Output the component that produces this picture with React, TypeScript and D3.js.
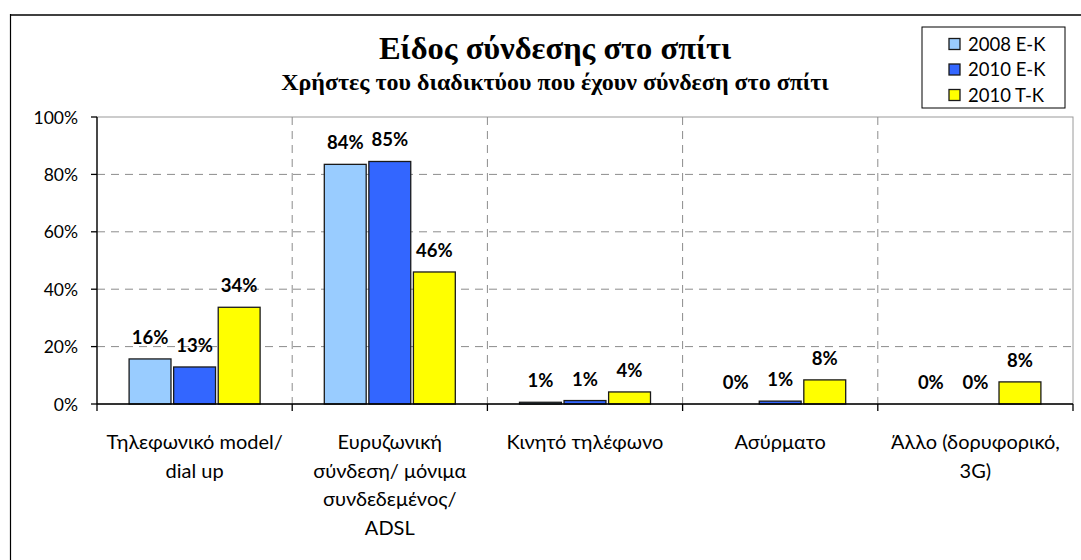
import React from "react";
import * as d3 from "d3";

const categories = [
  ["Τηλεφωνικό model/", "dial up"],
  ["Ευρυζωνική", "σύνδεση/ μόνιμα", "συνδεδεμένος/", "ADSL"],
  ["Κινητό τηλέφωνο"],
  ["Ασύρματο"],
  ["Άλλο (δορυφορικό,", "3G)"],
];
const seriesNames = ["2008 E-K", "2010 E-K", "2010 T-K"];
const values2008EK = [15.7, 83.5, 0.6, 0, 0];
const values2010EK = [12.9, 84.5, 1.2, 1.0, 0];
const values2010TK = [33.7, 46.0, 4.2, 8.4, 7.7];
const seriesColors = ["#99CCFF", "#3366FF", "#FFFF00"];
const yTicks = [0, 20, 40, 60, 80, 100];
const title = "Είδος σύνδεσης στο σπίτι";
const subtitle = "Χρήστες του διαδικτύου που έχουν σύνδεση στο σπίτι";

const W = 1081;
const H = 560;
const plot = { left: 97, right: 1073, top: 117, bottom: 404 };
const sans = "Lato, 'Open Sans', sans-serif";
const serif = "'Liberation Serif', 'DejaVu Serif', serif";

export default function App() {
  const series = [values2008EK, values2010EK, values2010TK];
  const x = d3
    .scaleBand<number>()
    .domain(categories.map((_, i) => i))
    .range([plot.left, plot.right])
    .paddingInner(0)
    .paddingOuter(0);
  const groupW = 131;
  const inner = d3
    .scaleBand<number>()
    .domain([0, 1, 2])
    .range([0, groupW])
    .paddingInner(0.06);
  const y = d3.scaleLinear().domain([0, 100]).range([plot.bottom, plot.top]);
  const bw = x.bandwidth();
  const boundaries = categories.map((_, i) => x(i)!).concat([plot.right]);

  return (
    <div style={{ position: "fixed", left: 0, top: 0 }}>
      <svg width={W} height={H} style={{ display: "block", background: "#fff" }}>
        <rect x={0} y={0} width={W} height={H} fill="#fff" />
        {/* outer frame */}
        <line x1={10.5} x2={W + 5} y1={15} y2={15} stroke="#404040" strokeWidth={2} />
        <line x1={10.5} x2={10.5} y1={14} y2={H + 5} stroke="#000" strokeWidth={1.2} />

        {/* title */}
        <text x={555} y={59} textAnchor="middle" fontFamily={serif} fontWeight="bold" fontSize={32.5} fill="#000">
          {title}
        </text>
        <text x={555} y={90} textAnchor="middle" fontFamily={serif} fontWeight="bold" fontSize={24} fill="#000">
          {subtitle}
        </text>

        {/* plot area border */}
        <rect x={plot.left} y={plot.top} width={plot.right - plot.left} height={plot.bottom - plot.top} fill="none" stroke="#9a9a9a" strokeWidth={1} />

        {/* horizontal grid */}
        {yTicks.filter((t) => t > 0 && t < 100).map((t) => (
          <line key={"h" + t} x1={plot.left} x2={plot.right} y1={y(t)} y2={y(t)} stroke="#8c8c8c" strokeDasharray="8,6" strokeWidth={1} />
        ))}
        {/* vertical grid */}
        {boundaries.slice(1, -1).map((bx, i) => (
          <line key={"v" + i} x1={bx} x2={bx} y1={plot.top} y2={plot.bottom} stroke="#8c8c8c" strokeDasharray="8,6" strokeWidth={1} />
        ))}

        {/* bars */}
        {series.map((vals, s) =>
          vals.map((v, c) => {
            const bx = x(c)! + (bw - groupW) / 2 + inner(s)!;
            const top = y(v);
            if (v <= 0) return null;
            return (
              <rect
                key={`b${s}-${c}`}
                x={bx}
                y={top}
                width={inner.bandwidth()}
                height={plot.bottom - top}
                fill={seriesColors[s]}
                stroke="#1a1a1a"
                strokeWidth={1.3}
              />
            );
          })
        )}

        {/* data labels */}
        {series.map((vals, s) =>
          vals.map((v, c) => {
            const cx = x(c)! + (bw - groupW) / 2 + inner(s)! + inner.bandwidth() / 2;
            return (
              <text
                key={`l${s}-${c}`}
                x={cx}
                y={y(v) - 15}
                textAnchor="middle"
                fontFamily={sans}
                fontWeight="bold"
                fontSize={18.5}
                fill="#000"
              >
                {Math.round(v) + "%"}
              </text>
            );
          })
        )}

        {/* axes */}
        <line x1={plot.left} x2={plot.left} y1={plot.top} y2={plot.bottom} stroke="#000" strokeWidth={1.3} />
        <line x1={plot.left} x2={plot.right} y1={plot.bottom} y2={plot.bottom} stroke="#000" strokeWidth={1.3} />
        {yTicks.map((t) => (
          <g key={"yt" + t}>
            <line x1={plot.left - 6} x2={plot.left} y1={y(t)} y2={y(t)} stroke="#000" strokeWidth={1.3} />
            <text x={plot.left - 19} y={y(t) + 6.5} textAnchor="end" fontFamily={sans} fontSize={17.5} fill="#000">
              {t + "%"}
            </text>
          </g>
        ))}
        {boundaries.map((bx, i) => (
          <line key={"xt" + i} x1={bx} x2={bx} y1={plot.bottom} y2={plot.bottom + 7} stroke="#000" strokeWidth={1.3} />
        ))}
        {categories.map((lines, c) => (
          <text key={"cl" + c} textAnchor="middle" fontFamily={sans} fontSize={20} fill="#000">
            {lines.map((ln, j) => (
              <tspan key={j} x={x(c)! + bw / 2} y={449 + j * 28.5}>
                {ln}
              </tspan>
            ))}
          </text>
        ))}

        {/* legend */}
        <rect x={922} y={27} width={143} height={81} fill="#fff" stroke="#000" strokeWidth={1} />
        {seriesNames.map((n, i) => (
          <g key={"lg" + i}>
            <rect x={949} y={38.5 + i * 25.5} width={11} height={11} fill={seriesColors[i]} stroke="#1a1a1a" strokeWidth={1.3} />
            <text x={968} y={50.5 + i * 25.5} fontFamily={sans} fontSize={18.5} fill="#000">
              {n}
            </text>
          </g>
        ))}
      </svg>
    </div>
  );
}
